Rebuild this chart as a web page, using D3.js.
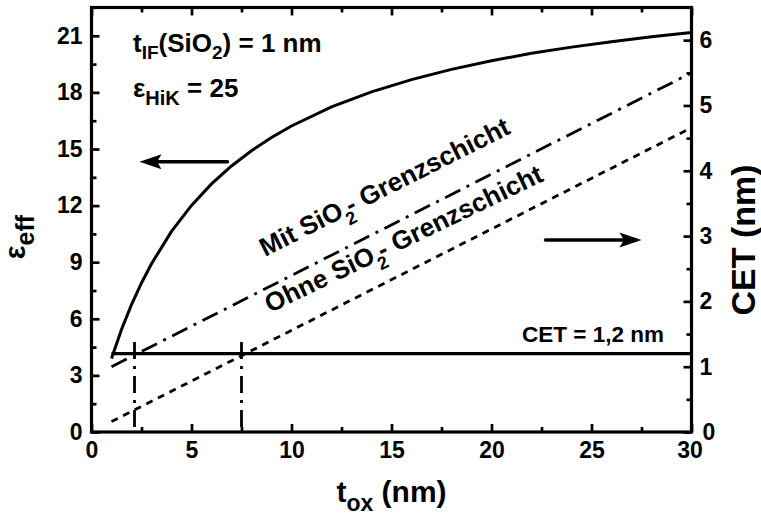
<!DOCTYPE html>
<html>
<head>
<meta charset="utf-8">
<script src="https://cdn.jsdelivr.net/npm/d3@7"></script>
<style>
  html, body { margin: 0; padding: 0; background: #fff; }
  svg { display: block; }
  text { font-family: "Liberation Sans", Arial, Helvetica, sans-serif; font-weight: bold; fill: #000; }
</style>
</head>
<body>
<svg id="chart" width="761" height="515"></svg>
<script>
// Oxide thickness (nm) and effective permittivity of the stack
const tox = [1, 1.5, 2, 2.5, 3, 4, 5, 6, 7, 8, 9, 10, 12, 14, 16, 18, 20, 22, 24, 26, 28, 30];
const epsEff = [3.90, 5.43, 6.75, 7.90, 8.92, 10.63, 12.01, 13.15, 14.10, 14.91, 15.61, 16.22,
                17.23, 18.03, 18.68, 19.22, 19.68, 20.07, 20.40, 20.69, 20.95, 21.18];

// CET (nm) of the stack, straight lines between the end points
const cetTox = [1, 30];
const cetWith = [1.00, 5.50];     // with SiO2 interface layer
const cetWithout = [0.16, 4.66];  // without SiO2 interface layer

// CET target and the oxide thicknesses where each line reaches it
const cetTarget = 1.2;
const cetCrossTox = [2.15, 7.5];
const cetCrossTop = 1.38;

// Axis ticks
const xTicks = [0, 5, 10, 15, 20, 25, 30];
const xMinor = [2.5, 7.5, 12.5, 17.5, 22.5, 27.5];
const epsTicks = [0, 3, 6, 9, 12, 15, 18, 21];
const epsMinor = [1.5, 4.5, 7.5, 10.5, 13.5, 16.5, 19.5];
const cetTicks = [0, 1, 2, 3, 4, 5, 6];
const cetMinor = [0.5, 1.5, 2.5, 3.5, 4.5, 5.5];

// Arrows pointing to the axis each curve belongs to (data units)
const arrowLeft = { x0: 6.8, x1: 2.4, eps: 14.33 };
const arrowRight = { x0: 22.7, x1: 27.5, cet: 2.94 };

const svg = d3.select("#chart");
const L = 91.5, R = 691.5, T = 7.5, B = 432;

const x = d3.scaleLinear().domain([0, 30]).range([L, R]);
const yL = d3.scaleLinear().domain([0, 22.5]).range([B, T]);
const yR = d3.scaleLinear().domain([0, 6.5]).range([B, T]);

function styleAxis(g) {
  g.select(".domain").remove();
  g.selectAll(".tick line").attr("stroke", "#000").attr("stroke-width", 2.7);
  g.selectAll(".tick text").attr("font-size", 23).attr("fill", "#000")
    .style("font-family", '"Liberation Sans", Arial, sans-serif').style("font-weight", "bold");
}

// Major and minor ticks, all pointing inward
svg.append("g").attr("transform", `translate(0,${B})`)
  .call(d3.axisBottom(x).tickValues(xTicks).tickSize(-8).tickPadding(10).tickFormat(d3.format("d")))
  .call(styleAxis)
  .call(g => g.selectAll(".tick text").filter(d => d === 30).attr("dx", -2));
svg.append("g").attr("transform", `translate(0,${B})`)
  .call(d3.axisBottom(x).tickValues(xMinor).tickSize(-5).tickFormat(""))
  .call(styleAxis);
svg.append("g").attr("transform", `translate(0,${T})`)
  .call(d3.axisTop(x).tickValues(xTicks).tickSize(-8).tickFormat(""))
  .call(styleAxis);
svg.append("g").attr("transform", `translate(0,${T})`)
  .call(d3.axisTop(x).tickValues(xMinor).tickSize(-5).tickFormat(""))
  .call(styleAxis);
svg.append("g").attr("transform", `translate(${L},0)`)
  .call(d3.axisLeft(yL).tickValues(epsTicks).tickSize(-8).tickPadding(9).tickFormat(d3.format("d")))
  .call(styleAxis);
svg.append("g").attr("transform", `translate(${L},0)`)
  .call(d3.axisLeft(yL).tickValues(epsMinor).tickSize(-5).tickFormat(""))
  .call(styleAxis);
svg.append("g").attr("transform", `translate(${R},0)`)
  .call(d3.axisRight(yR).tickValues(cetTicks).tickSize(-8).tickPadding(8).tickFormat(d3.format("d")))
  .call(styleAxis)
  .call(g => g.selectAll(".tick text").filter(d => d === 0).attr("dx", 3).attr("y", 5).attr("dy", "0.1em"));
svg.append("g").attr("transform", `translate(${R},0)`)
  .call(d3.axisRight(yR).tickValues(cetMinor).tickSize(-5).tickFormat(""))
  .call(styleAxis);

// Frame
svg.append("rect").attr("x", L).attr("y", T).attr("width", R - L).attr("height", B - T)
  .attr("fill", "none").attr("stroke", "#000").attr("stroke-width", 3.2);

// Effective permittivity curve
svg.append("path")
  .datum(tox.map((t, i) => [t, epsEff[i]]))
  .attr("fill", "none").attr("stroke", "#000").attr("stroke-width", 3)
  .attr("d", d3.line().x(d => x(d[0])).y(d => yL(d[1])));

// CET lines
const cetLine = d3.line().x(d => x(d[0])).y(d => yR(d[1]));
svg.append("path")
  .datum(cetTox.map((t, i) => [t, cetWith[i]]))
  .attr("fill", "none").attr("stroke", "#000").attr("stroke-width", 2.8)
  .attr("stroke-dasharray", "17,7,3,7").attr("d", cetLine);
svg.append("path")
  .datum(cetTox.map((t, i) => [t, cetWithout[i]]))
  .attr("fill", "none").attr("stroke", "#000").attr("stroke-width", 2.8)
  .attr("stroke-dasharray", "7,6").attr("d", cetLine);

// CET target line
svg.append("path")
  .datum([[1, cetTarget], [30, cetTarget]])
  .attr("fill", "none").attr("stroke", "#000").attr("stroke-width", 3.2).attr("d", cetLine);

// Drop lines at the crossings
cetCrossTox.forEach(t => {
  svg.append("path")
    .datum([[t, cetCrossTop], [t, 0]])
    .attr("fill", "none").attr("stroke", "#000").attr("stroke-width", 2.8)
    .attr("stroke-dasharray", "17,7,3,7").attr("d", cetLine);
});

// Arrows
function arrow(xa, xb, yy) {
  const dir = Math.sign(xb - xa);
  const head = 22, hw = 7.5;
  svg.append("line").attr("x1", xa).attr("y1", yy).attr("x2", xb - dir * head * 0.6).attr("y2", yy)
    .attr("stroke", "#000").attr("stroke-width", 3.5).attr("stroke-linecap", "round");
  svg.append("path")
    .attr("d", `M${xb},${yy} L${xb - dir * head},${yy - hw} L${xb - dir * head * 0.8},${yy} L${xb - dir * head},${yy + hw} Z`)
    .attr("fill", "#000");
}
arrow(x(arrowLeft.x0), x(arrowLeft.x1), yL(arrowLeft.eps));
arrow(x(arrowRight.x0), x(arrowRight.x1), yR(arrowRight.cet));

// Annotations
const t1 = svg.append("text").attr("x", 133).attr("y", 52).attr("font-size", 26);
t1.append("tspan").text("t");
t1.append("tspan").attr("font-size", 19).attr("dy", 7).text("IF");
t1.append("tspan").attr("dy", -7).text("(SiO");
t1.append("tspan").attr("font-size", 19).attr("dy", 7).text("2");
t1.append("tspan").attr("dy", -7).text(") = 1 nm");

const t2 = svg.append("text").attr("x", 133).attr("y", 97).attr("font-size", 26);
t2.append("tspan").text("ε");
t2.append("tspan").attr("font-size", 20).attr("dy", 8).text("HiK");
t2.append("tspan").attr("dy", -8).text(" = 25");

svg.append("text").attr("x", 664).attr("y", 342).attr("font-size", 22.5)
  .attr("text-anchor", "end").text("CET = 1,2 nm");

function lineLabel(prefix, px, py, ang) {
  const t = svg.append("text").attr("font-size", 26)
    .attr("transform", `translate(${px},${py}) rotate(${ang})`);
  t.append("tspan").text(prefix + " SiO");
  t.append("tspan").attr("font-size", 18).attr("dy", 10).text("2");
  t.append("tspan").attr("dy", -10).attr("dx", -4).text("- Grenzschicht");
}
lineLabel("Mit", x(8.68), yR(2.68), -26.7);
lineLabel("Ohne", x(8.93), yR(1.82), -25.8);

// Axis titles
const xt = svg.append("text").attr("x", (L + R) / 2).attr("y", 502)
  .attr("text-anchor", "middle").attr("font-size", 30);
xt.append("tspan").text("t");
xt.append("tspan").attr("font-size", 23).attr("dy", 9).text("ox");
xt.append("tspan").attr("dy", -9).text(" (nm)");

const yt = svg.append("text").attr("transform", "translate(25,237) rotate(-90)")
  .attr("text-anchor", "middle").attr("font-size", 29);
yt.append("tspan").text("ε");
yt.append("tspan").attr("font-size", 25).attr("dy", 9).text("eff");

svg.append("text").attr("transform", "translate(755,240) rotate(-90)")
  .attr("text-anchor", "middle").attr("font-size", 34).text("CET (nm)");
</script>
</body>
</html>
